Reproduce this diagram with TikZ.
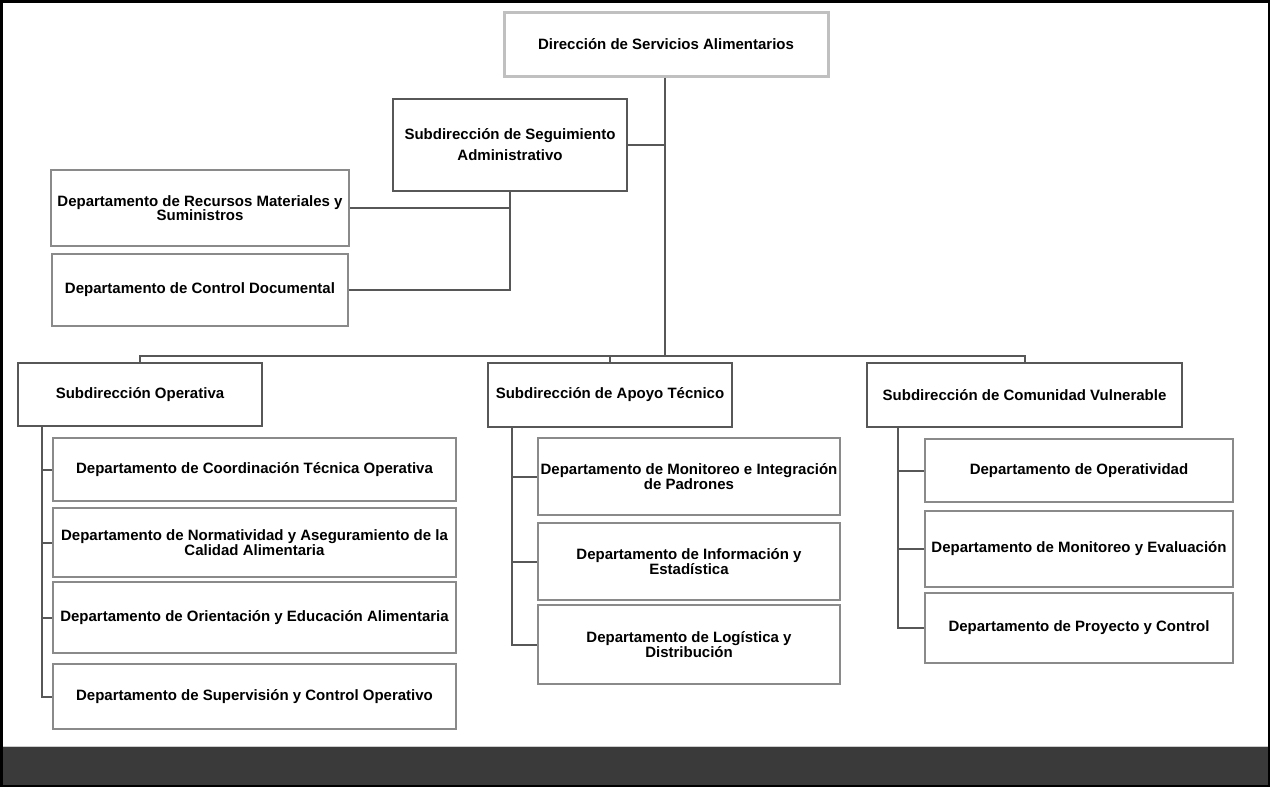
\documentclass[tikz,border=0pt]{standalone}
\usepackage{fontspec}
\setmainfont{Liberation Sans}
\usepackage{tikz}
\usetikzlibrary{positioning,calc}
\definecolor{topgray}{HTML}{C0C0C0}
\definecolor{subgray}{HTML}{575757}
\definecolor{deptgray}{HTML}{8A8A8A}
\definecolor{bandgray}{HTML}{3A3A3A}

\begin{document}
\begin{tikzpicture}[x=1pt, y=-1pt,
    every node/.style={font=\bfseries\fontsize{15}{14}\selectfont, align=center, inner sep=0pt},
    topbox/.style={draw=topgray, line width=3pt},
    subbox/.style={draw=subgray, line width=2pt},
    deptbox/.style={draw=deptgray, line width=2pt},
    link/.style={draw=subgray, line width=2pt}]
    \useasboundingbox (0,0) rectangle (1270,787);
    % page frame and footer band
    \fill[bandgray] (0,747) rectangle (1270,787);
    \draw[black!20] (0,746.5) -- (1270,746.5);
    \draw[black, line width=2.5pt] (1.25,1.25) rectangle (1268.75,785.75);

    % direction and administrative branch
    \node[topbox, minimum width=324pt, minimum height=64pt] (dir) at (666,44) {Dirección de Servicios Alimentarios};
    \node[subbox, minimum width=234pt, minimum height=92pt, font=\bfseries\fontsize{15}{21}\selectfont] (seg) at (510,145) {Subdirección de Seguimiento\\Administrativo};
    \node[deptbox, minimum width=298pt, minimum height=76pt] (rec) at (200,208) {Departamento de Recursos Materiales y\\Suministros};
    \node[deptbox, minimum width=296pt, minimum height=72pt] (doc) at (200,290) {Departamento de Control Documental};

    % sub-directions
    \node[subbox, minimum width=244pt, minimum height=63pt] (ope) at (140,394.5) {Subdirección Operativa};
    \node[subbox, minimum width=244pt, minimum height=64pt] (apo) at (610,395) {Subdirección de Apoyo Técnico};
    \node[subbox, minimum width=315pt, minimum height=64pt] (com) at (1024.5,395) {Subdirección de Comunidad Vulnerable};

    % departments of Operativa
    \node[deptbox, minimum width=403pt, minimum height=63pt] (coo) at (254.5,469.5) {Departamento de Coordinación Técnica Operativa};
    \node[deptbox, minimum width=403pt, minimum height=69pt] (nor) at (254.5,542.5) {Departamento de Normatividad y Aseguramiento de la\\Calidad Alimentaria};
    \node[deptbox, minimum width=403pt, minimum height=71pt] (ori) at (254.5,617.5) {Departamento de Orientación y Educación Alimentaria};
    \node[deptbox, minimum width=403pt, minimum height=65pt] (sup) at (254.5,696.5) {Departamento de Supervisión y Control Operativo};

    % departments of Apoyo Tecnico
    \node[deptbox, minimum width=302pt, minimum height=77pt] (mon) at (689,476.5) {Departamento de Monitoreo e Integración\\de Padrones};
    \node[deptbox, minimum width=302pt, minimum height=77pt] (inf) at (689,561.5) {Departamento de Información y\\Estadística};
    \node[deptbox, minimum width=302pt, minimum height=79pt] (log) at (689,644.5) {Departamento de Logística y\\Distribución};

    % departments of Comunidad Vulnerable
    \node[deptbox, minimum width=308pt, minimum height=63pt] (opd) at (1079,470.5) {Departamento de Operatividad};
    \node[deptbox, minimum width=308pt, minimum height=76pt] (mev) at (1079,549) {Departamento de Monitoreo y Evaluación};
    \node[deptbox, minimum width=308pt, minimum height=70pt] (pyc) at (1079,628) {Departamento de Proyecto y Control};

    % connectors
    \coordinate (bus) at (665,356);
    \coordinate (opeline) at ([xshift=25pt]ope.south west);
    \coordinate (apoline) at ([xshift=25pt]apo.south west);
    \coordinate (comline) at ([xshift=32pt]com.south west);
    \draw[link] (dir.south -| bus) -- (bus);
    \draw[link] (seg.east) -- (seg.east -| bus);
    \draw[link] (seg.south) |- (rec.east);
    \draw[link] (seg.south) |- (doc.east);
    \draw[link] (ope.north) |- (bus) -| (com.north);
    \draw[link] (apo.north) -- (apo.north |- bus);
    \draw[link] (opeline) |- (sup.west);
    \foreach \d in {coo,nor,ori} \draw[link] (opeline |- \d.west) -- (\d.west);
    \draw[link] (apoline) |- (log.west);
    \foreach \d in {mon,inf} \draw[link] (apoline |- \d.west) -- (\d.west);
    \draw[link] (comline) |- (pyc.west);
    \foreach \d in {opd,mev} \draw[link] (comline |- \d.west) -- (\d.west);
\end{tikzpicture}
\end{document}
